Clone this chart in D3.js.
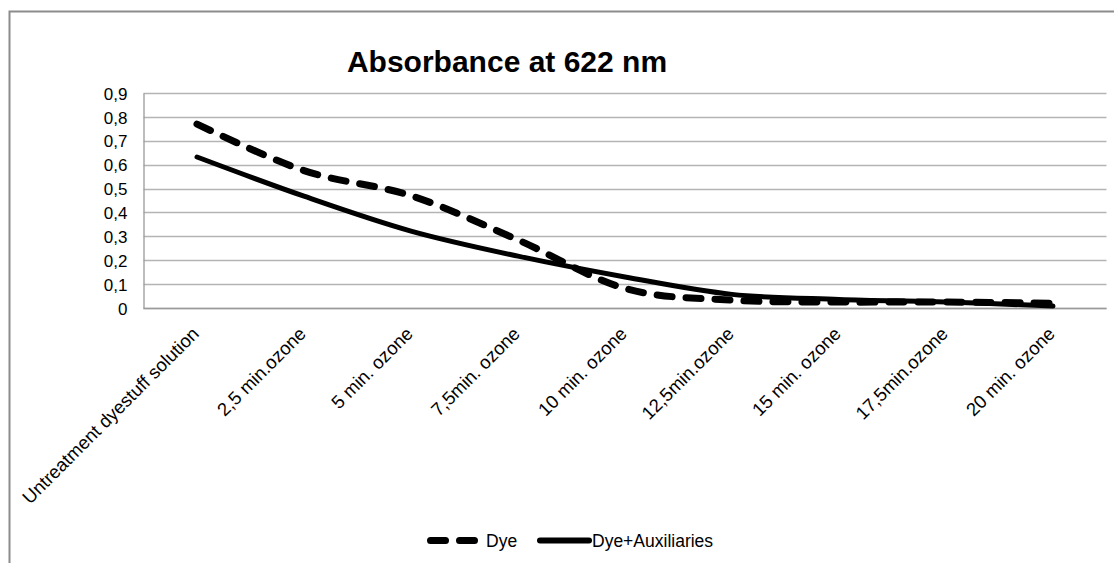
<!DOCTYPE html>
<html>
<head>
<meta charset="utf-8">
<script src="https://cdn.jsdelivr.net/npm/d3@7"></script>
<style>
  html, body { margin: 0; padding: 0; background: #ffffff; }
  svg { display: block; }
  text { font-family: "Liberation Sans", Arial, sans-serif; fill: #000; }
</style>
</head>
<body>
<svg id="chart" width="1114" height="563"></svg>
<script>
const categories = [
  "Untreatment dyestuff solution", "2,5 min.ozone", "5 min. ozone", "7,5min. ozone",
  "10 min. ozone", "12,5min.ozone", "15 min. ozone", "17,5min.ozone", "20 min. ozone"
];
const dyeValues = [0.77, 0.575, 0.47, 0.285, 0.082, 0.033, 0.025, 0.025, 0.02];
const dyeAuxValues = [0.632, 0.468, 0.322, 0.217, 0.13, 0.057, 0.036, 0.025, 0.008];
const yTicks = [0, 0.1, 0.2, 0.3, 0.4, 0.5, 0.6, 0.7, 0.8, 0.9];
const title = "Absorbance at 622 nm";
const seriesNames = ["Dye", "Dye+Auxiliaries"];

const svg = d3.select("#chart");
const plot = { left: 143.5, right: 1106.5, top: 93, bottom: 308 };

// outer frame
svg.append("rect")
  .attr("x", 9.5).attr("y", 11.5).attr("width", 1115).attr("height", 560)
  .attr("fill", "#ffffff").attr("stroke", "#8c8c8c").attr("stroke-width", 2);

const x = d3.scalePoint().domain(categories).range([plot.left, plot.right]).padding(0.5);
const y = d3.scaleLinear().domain([0, 0.9]).range([plot.bottom, plot.top]);

// title
svg.append("text")
  .attr("x", 507).attr("y", 72)
  .attr("text-anchor", "middle")
  .attr("font-size", 30).attr("font-weight", "bold")
  .text(title);

// gridlines
svg.append("g").selectAll("line").data(yTicks).join("line")
  .attr("x1", plot.left).attr("x2", plot.right)
  .attr("y1", d => Math.round(y(d)) + 0.5).attr("y2", d => Math.round(y(d)) + 0.5)
  .attr("stroke", "#b4b4b4").attr("stroke-width", 1.3);

// y axis
const yAxis = d3.axisLeft(y).tickValues(yTicks)
  .tickFormat(d => d3.format(".1f")(d).replace(".", ",").replace(/^0,0$/, "0"))
  .tickSize(0).tickPadding(16);
const gy = svg.append("g").attr("transform", `translate(${plot.left},0)`).call(yAxis);
gy.select(".domain").attr("stroke", "#9a9a9a").attr("stroke-width", 1.3);
gy.selectAll("text").attr("font-size", 17).attr("font-family", "Liberation Sans, Arial, sans-serif").attr("dy", "0.36em");

// x axis line
svg.append("line")
  .attr("x1", plot.left).attr("x2", plot.right)
  .attr("y1", plot.bottom + 0.5).attr("y2", plot.bottom + 0.5)
  .attr("stroke", "#9a9a9a").attr("stroke-width", 1.3);

// x labels
svg.append("g").selectAll("text").data(categories).join("text")
  .attr("transform", d => `translate(${x(d) + 3},${335}) rotate(-45)`)
  .attr("text-anchor", "end")
  .attr("font-size", 18.5)
  .text(d => d);

// lines
const line = d3.line()
  .x((d, i) => x(categories[i]))
  .y(d => y(d))
  .curve(d3.curveCatmullRom.alpha(0));

svg.append("path").datum(dyeAuxValues)
  .attr("d", line).attr("fill", "none")
  .attr("stroke", "#000").attr("stroke-width", 5)
  .attr("stroke-linecap", "round").attr("stroke-linejoin", "round");

svg.append("path").datum(dyeValues)
  .attr("d", line).attr("fill", "none")
  .attr("stroke", "#000").attr("stroke-width", 7)
  .attr("stroke-dasharray", "15,14")
  .attr("stroke-linecap", "round").attr("stroke-linejoin", "round");

// legend
const lg = svg.append("g");
lg.append("line").attr("x1", 430.5).attr("x2", 475.5).attr("y1", 540.5).attr("y2", 540.5)
  .attr("stroke", "#000").attr("stroke-width", 7)
  .attr("stroke-dasharray", "15,14").attr("stroke-linecap", "round");
lg.append("text").attr("x", 486).attr("y", 547).attr("font-size", 17.5).text(seriesNames[0]);
lg.append("line").attr("x1", 540).attr("x2", 589).attr("y1", 540.5).attr("y2", 540.5)
  .attr("stroke", "#000").attr("stroke-width", 6).attr("stroke-linecap", "round");
lg.append("text").attr("x", 592).attr("y", 547).attr("font-size", 17.5).text(seriesNames[1]);
</script>
</body>
</html>
